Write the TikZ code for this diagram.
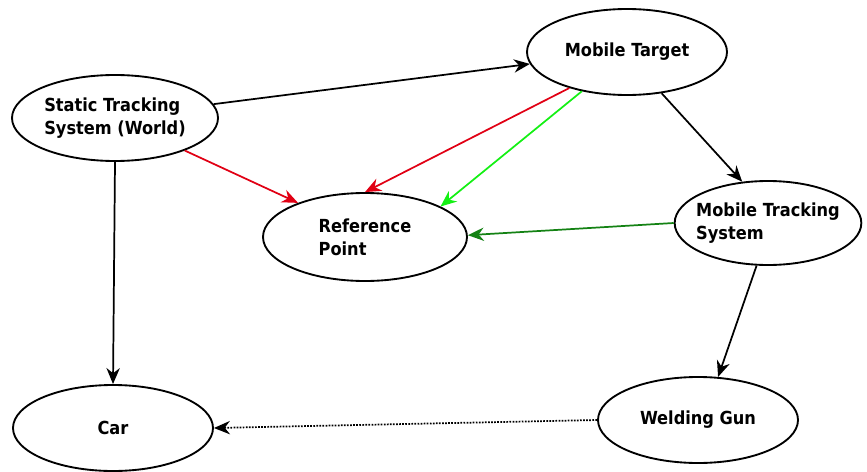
\documentclass[tikz,border=0pt]{standalone}
\usepackage{fontspec}
\setmainfont{DejaVu Sans Condensed}
\usetikzlibrary{shapes.geometric,arrows.meta}
\definecolor{redarrow}{RGB}{225,0,20}
\definecolor{limearrow}{RGB}{20,240,20}
\definecolor{darkarrow}{RGB}{20,130,20}
\tikzset{
  ent/.style={draw, ellipse, line width=1.4pt, inner sep=0pt, align=left,
    font=\bfseries\fontsize{13.5}{17.5}\selectfont},
  link/.style={line width=1.3pt, -{Stealth[length=12pt,width=10pt]}},
}
\begin{document}
\begin{tikzpicture}[x=0.75pt,y=-0.75pt]
\useasboundingbox (0,0) rectangle (867,471);
\node[ent, minimum width=154.5pt, minimum height=64.5pt] (stat) at (115,118) {Static Tracking\\System (World)};
\node[ent, minimum width=150pt, minimum height=64.5pt] (mt) at (627,52) {Mobile Target};
\node[ent, minimum width=153pt, minimum height=66pt] (ref) at (365,237) {Reference\\Point};
\node[ent, inner xsep=-7pt, minimum width=140pt, minimum height=63pt] (mts) at (768,223) {Mobile Tracking\\System};
\node[ent, minimum width=150pt, minimum height=64.5pt] (car) at (113,428) {Car};
\node[ent, minimum width=150pt, minimum height=64.5pt] (wg) at (698,420) {Welding Gun};

\draw[link] (stat.8.5) -- (mt.187);
\draw[link, redarrow] (stat.-25) -- (ref.153);
\draw[link] (stat.-90) -- (car.90);
\draw[link, redarrow] (mt.212) -- (ref.90);
\draw[link, limearrow] (mt.221) -- (ref.22);
\draw[link] (mt.-50) -- (mts.122);
\draw[link, darkarrow] (mts.180) -- (ref.1);
\draw[link] (mts.-105) -- (wg.65);
\draw[link, densely dotted] (wg.180) -- (car.0);
\end{tikzpicture}
\end{document}
